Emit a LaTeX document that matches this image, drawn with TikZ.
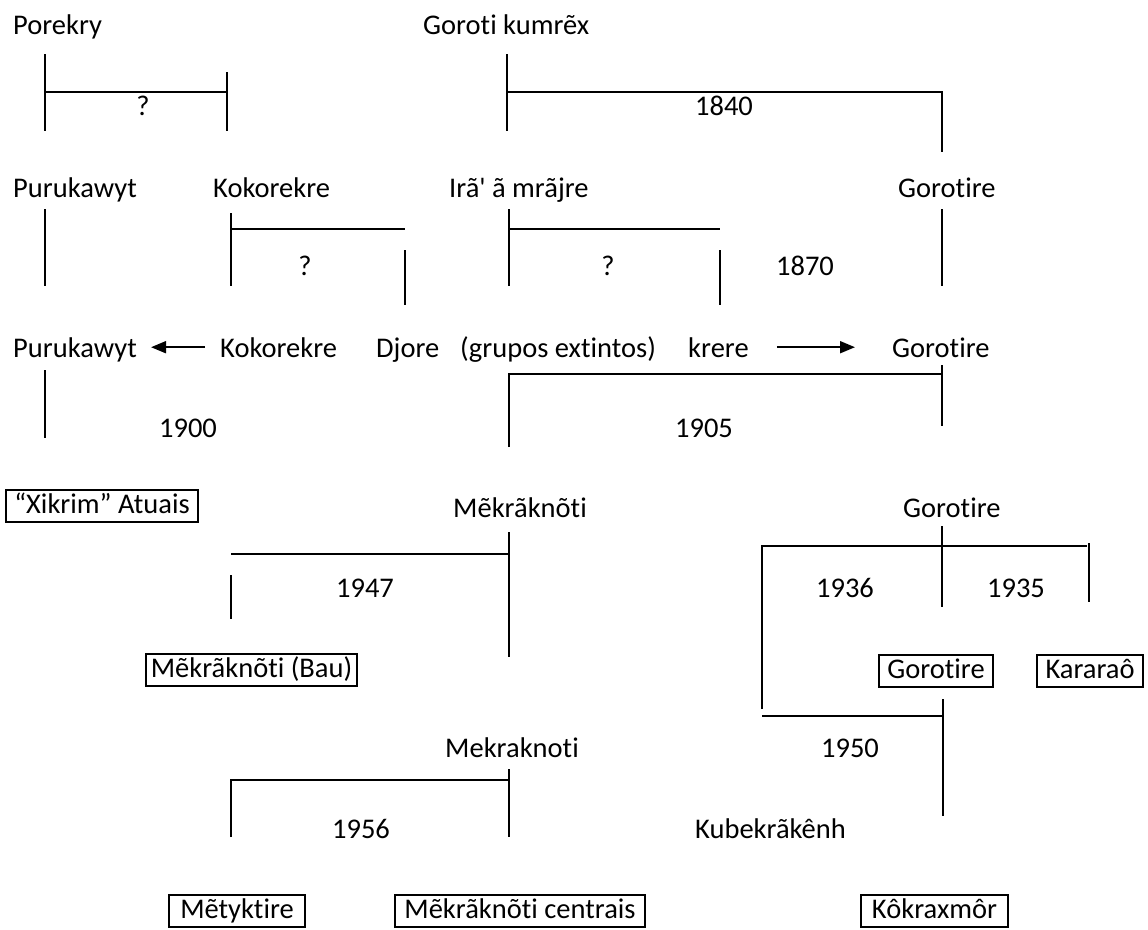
\documentclass[tikz,border=0pt]{standalone}
\usepackage{fontspec}
\setmainfont{Carlito}[Ligatures={TeX,NoCommon}]
\usetikzlibrary{arrows.meta}

\tikzset{
  grupo/.style={anchor=base west, inner sep=0pt},
  ano/.style={anchor=base, inner sep=0pt},
  aldeia/.style={draw, line width=1.6pt, inner xsep=0pt, inner ysep=3pt,
    text height=20pt, text depth=6pt, minimum height=32pt},
  linha/.style={line width=1.9pt},
  migra/.style={line width=1.9pt, -{Triangle[length=15pt,width=12pt]}}
}

\begin{document}
\begin{tikzpicture}[x=1pt, y=-1pt, font=\fontsize{28.5}{34}\selectfont]
\useasboundingbox (0,0) rectangle (1148,929);

% grupos
\node[grupo] (porekry) at (13,34) {Porekry};
\node[grupo] (gkumrex) at (423,34) {Goroti kumrẽx};
\node[grupo] (puru1) at (13,197) {Purukawyt};
\node[grupo] (koko1) at (213,197) {Kokorekre};
\node[grupo] (iraa) at (449,197) {Irã\textquotesingle{} ã mrãjre};
\node[grupo] (goro1) at (898,197) {Gorotire};
\node[grupo] (puru2) at (13,357) {Purukawyt};
\node[grupo] (koko2) at (220,357) {Kokorekre};
\node[grupo] (djore) at (376,357) {Djore};
\node[grupo] (extintos) at (460,357) {(grupos extintos)};
\node[grupo] (krere) at (688,357) {krere};
\node[grupo] (goro2) at (892,357) {Gorotire};
\node[grupo] (mekr1) at (453,517) {Mẽkrãknõti};
\node[grupo] (goro3) at (903,517) {Gorotire};
\node[grupo] (mekr2) at (445,757) {Mekraknoti};
\node[grupo] (kubek) at (695,838) {Kubekrãkênh};

% aldeias atuais
\node[aldeia, minimum width=192pt] (xikrim) at (102,506) {“Xikrim” Atuais};
\node[aldeia, minimum width=211pt] (bau) at (251.5,670) {Mẽkrãknõti (Bau)};
\node[aldeia, minimum width=114pt] (gorobox) at (936,671) {Gorotire};
\node[aldeia, minimum width=106pt] (kararao) at (1090,671) {Kararaô};
\node[aldeia, minimum width=136pt] (metyk) at (237,911) {Mẽtyktire};
\node[aldeia, minimum width=250pt] (centrais) at (520,911) {Mẽkrãknõti centrais};
\node[aldeia, minimum width=147pt] (kokrax) at (934.5,911) {Kôkraxmôr};

% datas
\node[ano] (q1) at (143,115) {?};
\node[ano] (y1840) at (724,115) {1840};
\node[ano] (q2) at (305,275) {?};
\node[ano] (q3) at (608,275) {?};
\node[ano] (y1870) at (805,275) {1870};
\node[ano] (y1900) at (188,437) {1900};
\node[ano] (y1905) at (704,437) {1905};
\node[ano] (y1947) at (365,597) {1947};
\node[ano] (y1936) at (845,597) {1936};
\node[ano] (y1935) at (1016,597) {1935};
\node[ano] (y1950) at (850,757) {1950};
\node[ano] (y1956) at (361,838) {1956};

% cisoes
\draw[linha] (45,54)--(45,131) (45,92)--(227,92) (227,72)--(227,131);
\draw[linha] (507,54)--(507,131) (507,92)--(942,92)--(942,152);
\draw[linha] (45,209)--(45,286);
\draw[linha] (231,213)--(231,286) (231,229)--(405,229) (405,250)--(405,305);
\draw[linha] (509,209)--(509,286) (509,229)--(720,229) (720,250)--(720,305);
\draw[linha] (942,209)--(942,286);
\draw[linha] (45,370)--(45,438);
\draw[linha] (509,447)--(509,374)--(942,374) (942,365)--(942,426);
\draw[linha] (509,532)--(509,657) (231,554)--(509,554) (231,575)--(231,619);
\draw[linha] (942,526)--(942,607) (762,709)--(762,546)--(1087,546) (1089,543)--(1089,602);
\draw[linha] (762,716)--(943,716) (943,699)--(943,816);
\draw[linha] (231,837)--(231,780)--(509,780) (509,769)--(509,837);

% migracoes
\draw[migra, shorten <=15pt, shorten >=14pt] (koko2.west) -- (koko2.west -| puru2.east);
\draw[migra, shorten <=28pt, shorten >=37pt] (krere.east) -- (krere.east -| goro2.west);
\end{tikzpicture}
\end{document}
